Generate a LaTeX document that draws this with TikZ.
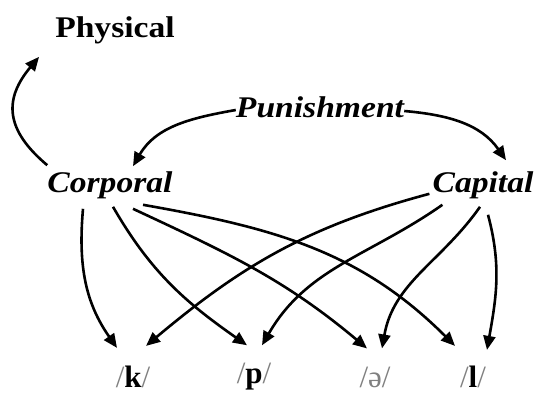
\documentclass[tikz,border=0pt]{standalone}
\usepackage{fontspec}
\setmainfont{Liberation Serif}[FakeStretch=1.12]
\newfontfamily\ipafont{Liberation Serif}
\usetikzlibrary{arrows.meta, positioning}

\newcommand{\fon}[1]{\textcolor{gray}{/}\textbf{#1}\textcolor{gray}{/}}

\begin{document}
\begin{tikzpicture}[
    palabra/.style={inner sep=0pt, font=\fontsize{30}{32}\selectfont\bfseries\itshape},
    fonema/.style={inner sep=0pt, font=\ipafont\fontsize{31}{33}\selectfont},
    flecha/.style={-{Triangle[length=14pt, width=12pt]}, line width=2.6pt}]
    \useasboundingbox (0,0) rectangle (537pt,394pt);

    % Palabras
    \node[palabra] (phys) at (115pt,364pt) {\upshape Physical};
    \node[palabra] (pun)  at (320pt,287pt) {Punishment};
    \node[palabra] (corp) at (110pt,209pt) {Corporal};
    \node[palabra] (capi) at (483pt,209pt) {Capital};

    % Fonemas
    \node[fonema] (k)     at (133pt,17pt) {\fon{k}};
    \node[fonema] (p)     at (254pt,17pt) {\fon{p}};
    \node[fonema] (schwa) at (375pt,17pt) {\textcolor{gray}{/ə/}};
    \node[fonema] (l)     at (473pt,17pt) {\fon{l}};

    % Flechas de arriba
    \draw[flecha] ([yshift=6pt]corp.north west) to[out=140, in=230, looseness=1.3] ([xshift=-16pt, yshift=-13pt]phys.south west);
    \draw[flecha] ([yshift=-3pt]pun.west) to[out=190, in=60] ([xshift=23pt, yshift=5pt]corp.north);
    \draw[flecha] ([yshift=-4pt]pun.east) to[out=-5, in=125] ([xshift=23pt, yshift=11pt]capi.north);

    % Corporal -> fonemas
    \draw[flecha] ([xshift=-27pt, yshift=-10pt]corp.south) to[out=265, in=125] ([xshift=-16pt, yshift=18pt]k.north);
    \draw[flecha] ([xshift=3pt, yshift=-8pt]corp.south) to[out=-60, in=145] ([xshift=-7pt, yshift=18pt]p.north);
    \draw[flecha] ([xshift=23pt, yshift=-10pt]corp.south) to[out=-25, in=140] ([xshift=-8pt, yshift=18pt]schwa.north);
    \draw[flecha] ([xshift=33pt, yshift=-6pt]corp.south) to[out=-10, in=135] ([xshift=-18pt, yshift=20pt]l.north);

    % Capital -> fonemas
    \draw[flecha] ([xshift=-3pt, yshift=5pt]capi.south west) to[out=195, in=40] ([xshift=13pt, yshift=20pt]k.north);
    \draw[flecha] ([xshift=10pt, yshift=-6pt]capi.south west) to[out=215, in=60] ([xshift=8pt, yshift=18pt]p.north);
    \draw[flecha] ([xshift=-3pt, yshift=-8pt]capi.south) to[out=235, in=80] ([xshift=7pt, yshift=18pt]schwa.north);
    \draw[flecha] ([xshift=5pt, yshift=-16pt]capi.south) to[out=-75, in=80] ([xshift=14pt, yshift=16pt]l.north);
\end{tikzpicture}
\end{document}
